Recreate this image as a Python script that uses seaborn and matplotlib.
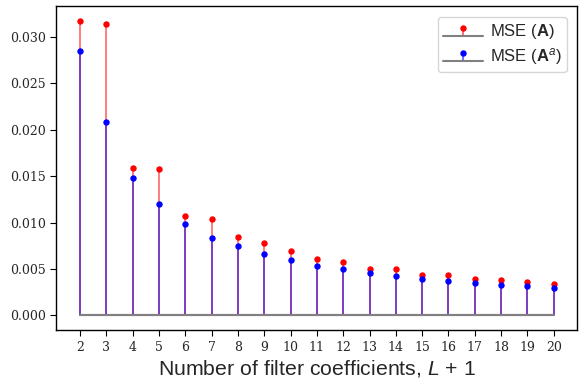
import numpy as np
import pandas as pd
import matplotlib
matplotlib.use('Agg')
import matplotlib.pyplot as plt
import seaborn as sns

# Values
n_coeffs = list(range(2, 21))
mse_A = [0.03172, 0.03143, 0.01589, 0.01579, 0.01075, 0.01039, 0.00848, 0.00777,
         0.00691, 0.00611, 0.00575, 0.00503, 0.00500, 0.00435, 0.00432, 0.00388,
         0.00381, 0.00356, 0.00338]
mse_Aa = [0.02849, 0.02086, 0.01481, 0.01198, 0.00982, 0.00838, 0.00745, 0.00658,
          0.00600, 0.00535, 0.00496, 0.00453, 0.00424, 0.00395, 0.00370, 0.00349,
          0.00330, 0.00313, 0.00295]

df = pd.DataFrame({'L1': n_coeffs, 'mse_A': mse_A, 'mse_Aa': mse_Aa})

sns.set_style('white')
plt.rcParams['font.family'] = ['Liberation Sans', 'DejaVu Sans']
plt.rcParams['mathtext.fontset'] = 'custom'
plt.rcParams['mathtext.rm'] = 'Liberation Sans'
plt.rcParams['mathtext.it'] = 'Liberation Sans:italic'
plt.rcParams['mathtext.bf'] = 'Liberation Sans:bold'

fig, ax = plt.subplots(figsize=(5.82, 3.83), dpi=100)
fig.subplots_adjust(left=0.097, right=0.992, top=0.984, bottom=0.138)

# Stem plots
st1 = ax.stem(df['L1'], df['mse_A'], linefmt='r-', markerfmt='ro', basefmt='gray',
              label=r'MSE ($\mathbf{A}$)')
st1.stemlines.set_alpha(0.55)
st1.stemlines.set_linewidth(1.3)
st1.markerline.set_markersize(3.6)
st1.baseline.set_linewidth(1.5)

st2 = ax.stem(df['L1'], df['mse_Aa'], linefmt='b-', markerfmt='bo', basefmt='gray',
              label=r'MSE ($\mathbf{A}^a$)')
st2.stemlines.set_alpha(0.55)
st2.stemlines.set_linewidth(1.3)
st2.markerline.set_markersize(3.6)
st2.baseline.set_linewidth(1.5)

ax.set_xticks(n_coeffs)
for lbl in ax.get_xticklabels() + ax.get_yticklabels():
    lbl.set_fontfamily('DejaVu Serif')
    lbl.set_fontsize(9)
ax.tick_params(axis='both', direction='out', length=4, width=0.8, color='black', bottom=True, left=True)

for s in ax.spines.values():
    s.set_color('black')
    s.set_linewidth(1.0)

ax.set_xlabel(r'Number of filter coefficients, $L$ + 1', fontsize=15.3, labelpad=3)
ax.legend(loc='upper right', fontsize=12, handlelength=2.4, handletextpad=0.4,
          borderpad=0.3, labelspacing=0.3, borderaxespad=0.65)

fig.savefig('out.png', dpi=100)
